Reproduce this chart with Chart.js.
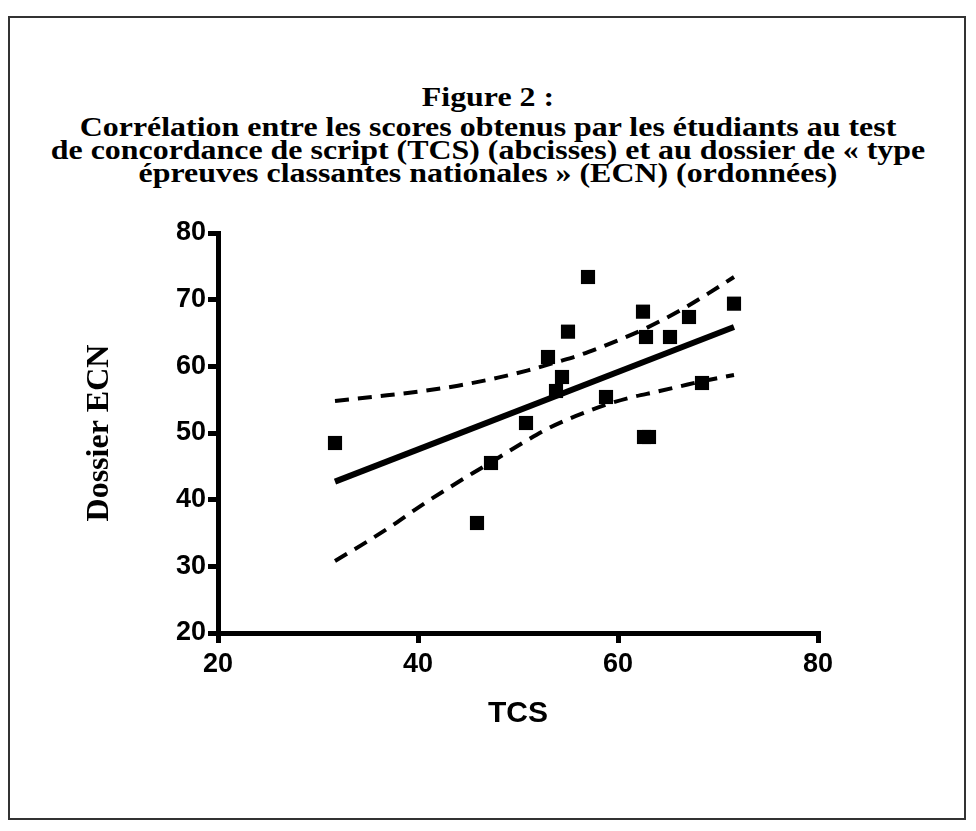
<!DOCTYPE html>
<html>
<head>
<meta charset="utf-8">
<script src="https://cdn.jsdelivr.net/npm/chart.js@4.4.1/dist/chart.umd.min.js"></script>
<style>
  body { margin: 0; background: #fff; }
  #frame {
    position: absolute; left: 8px; top: 16px; width: 958px; height: 804px;
    border: 2px solid #333; box-sizing: border-box;
  }
  #title {
    position: absolute; left: 0; top: 85px; width: 976px; text-align: center;
    font-family: "Liberation Serif", serif; font-weight: bold; font-size: 28px;
    line-height: 23px; color: #000;
    transform: scaleX(1.14); transform-origin: 488px 0;
  }
  #title .first { margin-bottom: 7px; }
  #wrap { position: absolute; left: 0; top: 0; width: 976px; height: 831px; }
</style>
</head>
<body>
<div id="frame"></div>
<div id="title">
  <div class="first">Figure 2 :</div>
  <div>Corrélation entre les scores obtenus par les étudiants au test</div>
  <div>de concordance de script (TCS) (abcisses) et au dossier de « type</div>
  <div>épreuves classantes nationales » (ECN) (ordonnées)</div>
</div>
<div id="wrap"><canvas id="scoreChart" width="976" height="831"></canvas></div>
<script>
// TCS score (x) vs Dossier ECN (y), one point per student
const tcsScores = [31.7, 45.9, 47.3, 50.8, 53.0, 53.8, 54.4, 55.0, 57.0, 58.8, 62.5, 62.6, 63.1, 62.8, 65.2, 67.1, 68.4, 71.6];
const ecnScores = [48.5, 36.5, 45.5, 51.5, 61.4, 56.3, 58.4, 65.2, 73.4, 55.4, 68.2, 49.4, 49.4, 64.4, 64.4, 67.4, 57.5, 69.4];

// regression line ends
const fitX = [31.7, 71.6];
const fitY = [42.7, 65.9];

// 95% confidence band
const upperX = [31.7, 36, 40, 44, 48, 51, 54, 56, 58, 60, 62.5, 64.5, 66.7, 69, 71.6];
const upperY = [54.8, 55.5, 56.2, 57.1, 58.3, 59.4, 60.7, 61.6, 62.7, 63.9, 65.5, 67.0, 68.8, 70.9, 73.4];
const lowerX = [31.7, 34.9, 37.9, 40.2, 42.9, 45.5, 47.4, 50.9, 52.9, 54.9, 56.9, 58.9, 61.2, 63.9, 66.2, 68.5, 71.6];
const lowerY = [30.8, 33.7, 36.6, 39.0, 41.6, 44.0, 45.7, 48.9, 50.6, 52.0, 53.2, 54.3, 55.3, 56.2, 57.0, 57.8, 58.7];

const xTicks = [20, 40, 60, 80];
const yTicks = [20, 30, 40, 50, 60, 70, 80];

const toPoints = (xs, ys) => xs.map((x, i) => ({ x: x, y: ys[i] }));

const bandStyle = {
  type: 'line',
  borderColor: '#000',
  borderWidth: 4,
  borderDash: [14, 9],
  pointRadius: 0,
  tension: 0.4,
  cubicInterpolationMode: 'monotone',
  fill: false,
  order: 3
};

const ctx = document.getElementById('scoreChart').getContext('2d');

new Chart(ctx, {
  type: 'scatter',
  data: {
    datasets: [
      {
        label: 'Étudiants',
        data: toPoints(tcsScores, ecnScores),
        pointStyle: 'rect',
        pointRadius: 10,
        pointHoverRadius: 10,
        backgroundColor: '#000',
        borderWidth: 0,
        order: 1
      },
      {
        type: 'line',
        label: 'Régression',
        data: toPoints(fitX, fitY),
        borderColor: '#000',
        borderWidth: 6,
        pointRadius: 0,
        fill: false,
        order: 2
      },
      Object.assign({ label: 'IC 95% haut', data: toPoints(upperX, upperY) }, bandStyle),
      Object.assign({ label: 'IC 95% bas', data: toPoints(lowerX, lowerY) }, bandStyle)
    ]
  },
  options: {
    responsive: false,
    animation: false,
    layout: { padding: { left: 77, top: 233, right: 158, bottom: 95 } },
    plugins: {
      legend: { display: false },
      tooltip: { enabled: false }
    },
    scales: {
      x: {
        type: 'linear',
        min: 20,
        max: 80,
        afterFit: (scale) => { scale.height = 103; },
        afterBuildTicks: (scale) => { scale.ticks = xTicks.map(v => ({ value: v })); },
        border: { display: true, color: '#000', width: 5 },
        grid: { drawOnChartArea: false, color: '#000', lineWidth: 5, tickLength: 10 },
        ticks: {
          color: '#000',
          padding: 5,
          font: { family: '"Liberation Sans", Arial, sans-serif', weight: 'bold', size: 27 }
        },
        title: {
          display: true,
          text: 'TCS',
          color: '#000',
          font: { family: '"Liberation Sans", Arial, sans-serif', weight: 'bold', size: 30 }
        }
      },
      y: {
        type: 'linear',
        min: 20,
        max: 80,
        afterFit: (scale) => { scale.width = 218 - 77; },
        afterBuildTicks: (scale) => { scale.ticks = yTicks.map(v => ({ value: v })); },
        border: { display: true, color: '#000', width: 5 },
        grid: { drawOnChartArea: false, color: '#000', lineWidth: 5, tickLength: 10 },
        ticks: {
          color: '#000',
          padding: 2,
          font: { family: '"Liberation Sans", Arial, sans-serif', weight: 'bold', size: 27 }
        },
        title: {
          display: true,
          text: 'Dossier ECN',
          color: '#000',
          font: { family: '"Liberation Serif", serif', weight: 'bold', size: 32 }
        }
      }
    }
  }
});
</script>
</body>
</html>
